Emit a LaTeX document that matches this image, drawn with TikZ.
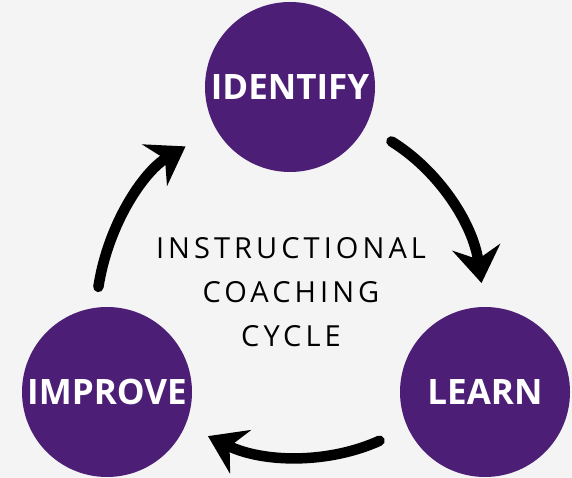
\documentclass[tikz,border=0pt]{standalone}
\usepackage{fontspec}
\setsansfont{Open Sans}
\usetikzlibrary{arrows.meta}
\definecolor{cyclepurple}{RGB}{76,30,118}
\definecolor{paper}{RGB}{244,244,244}
\tikzset{
   stage/.style={circle, fill=cyclepurple, minimum size=170pt, inner sep=0pt,
      text=white, font=\sffamily\bfseries\fontsize{35}{35}\selectfont},
   turn/.style={->, line width=10.5pt, line cap=round, bend left=25},
}
\begin{document}
\begin{tikzpicture}[x=1pt,y=1pt,>={Stealth[length=36pt,width=48pt,inset=12pt]}]
   % 背景
   \fill[paper] (0,0) rectangle (572,478);

   % 円
   \node[stage] (identify) at (290,391) {IDENTIFY};
   \node[stage] (learn) at (485,86) {LEARN};
   \node[stage] (improve) at (107,86) {IMPROVE};

   \node[align=center, font=\sffamily\fontsize{29}{44}\selectfont\addfontfeatures{LetterSpace=14}] (title) at (291,186) {INSTRUCTIONAL\\COACHING\\CYCLE};

   % 矢印
   \draw[turn, shorten <=30pt, shorten >=24pt] (identify.-27) to (learn.90);
   \draw[turn, shorten <=31pt, shorten >=25pt] (learn.205) to (improve.-23);
   \draw[turn, shorten <=21pt, shorten >=35pt] (improve.98) to (identify.209);
\end{tikzpicture}
\end{document}
